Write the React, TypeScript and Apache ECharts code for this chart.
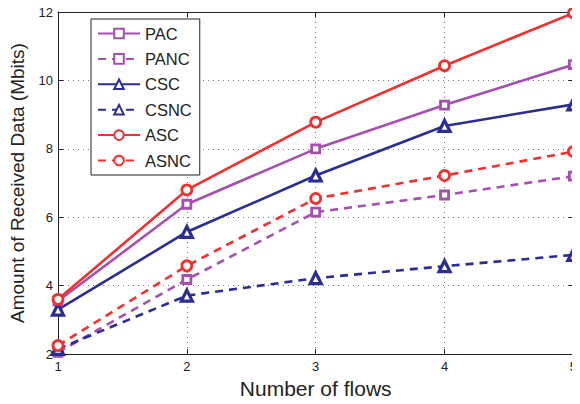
import React, { useEffect, useRef } from "react";
import * as echarts from "echarts";

const flows = [1, 2, 3, 4, 5];
const PAC = [3.55, 6.38, 8.0, 9.28, 10.46];
const PANC = [2.05, 4.18, 6.15, 6.65, 7.2];
const CSC = [3.3, 5.57, 7.22, 8.67, 9.3];
const CSNC = [2.15, 3.71, 4.22, 4.57, 4.9];
const ASC = [3.6, 6.8, 8.78, 10.43, 11.97];
const ASNC = [2.25, 4.58, 6.55, 7.22, 7.92];
const yTicks = [2, 12, 2]; // min, max, interval

const PURPLE = "#a54fb0";
const NAVY = "#2a2d96";
const RED = "#f2302f";
const FONT = "Liberation Sans, Arial, sans-serif";

export default function App() {
  const ref = useRef<HTMLDivElement>(null);
  useEffect(() => {
    const chart = echarts.init(ref.current!, null, { renderer: "svg" });
    const mk = (
      name: string,
      vals: number[],
      color: string,
      dashed: boolean,
      symbol: string,
      size: number,
      bw: number
    ) => ({
      name,
      type: "line",
      data: flows.map((x, i) => [x, vals[i]]),
      symbol,
      symbolSize: size,
      showAllSymbol: true,
      lineStyle: { color, width: 2.6, type: dashed ? [8, 6] : "solid" },
      itemStyle: { color: "#fff", borderColor: color, borderWidth: bw },
      z: 3,
    });
    const axisCommon = {
      axisLine: { show: true, lineStyle: { color: "#222", width: 1 } },
      axisTick: { show: true, inside: true, length: 5, lineStyle: { color: "#222" } },
    };
    chart.setOption({
      animation: false,
      backgroundColor: "#fff",
      textStyle: { fontFamily: FONT },
      grid: { left: 57, right: 5, top: 12, bottom: 47, containLabel: false },
      legend: {
        orient: "vertical",
        left: 91,
        top: 19,
        width: 107,
        padding: [6, 8, 6, 6],
        itemWidth: 42,
        itemHeight: 12,
        itemGap: 8.4,
        borderColor: "#222",
        borderWidth: 1,
        backgroundColor: "#fff",
        textStyle: { fontSize: 16.5, color: "#222", fontFamily: FONT },
        data: ["PAC", "PANC", "CSC", "CSNC", "ASC", "ASNC"],
      },
      xAxis: [
        {
          type: "value",
          min: 1,
          max: 5,
          interval: 1,
          name: "Number of flows",
          nameLocation: "middle",
          nameGap: 19,
          nameTextStyle: { fontSize: 21, color: "#222", fontFamily: FONT },
          axisLabel: { fontSize: 13, color: "#222", margin: 6, fontFamily: FONT },
          splitLine: { show: true, lineStyle: { color: "#777", type: [1, 4], width: 1 } },
          ...axisCommon,
        },
        {
          type: "value",
          position: "top",
          min: 1,
          max: 5,
          interval: 1,
          axisLabel: { show: false },
          splitLine: { show: false },
          ...axisCommon,
        },
      ],
      yAxis: [
        {
          type: "value",
          min: yTicks[0],
          max: yTicks[1],
          interval: yTicks[2],
          name: "Amount of Received Data (Mbits)",
          nameLocation: "middle",
          nameGap: 31,
          nameTextStyle: { fontSize: 19, color: "#222", fontFamily: FONT },
          axisLabel: { fontSize: 13, color: "#222", margin: 5, fontFamily: FONT },
          splitLine: { show: true, lineStyle: { color: "#777", type: [1, 4], width: 1 } },
          ...axisCommon,
        },
        {
          type: "value",
          position: "right",
          min: yTicks[0],
          max: yTicks[1],
          interval: yTicks[2],
          axisLabel: { show: false },
          splitLine: { show: false },
          ...axisCommon,
        },
      ],
      series: [
        mk("PAC", PAC, PURPLE, false, "rect", 8, 2.8),
        mk("PANC", PANC, PURPLE, true, "rect", 8, 2.8),
        mk("CSC", CSC, NAVY, false, "triangle", 11, 3.2),
        mk("CSNC", CSNC, NAVY, true, "triangle", 11, 3.2),
        mk("ASC", ASC, RED, false, "circle", 10, 2.8),
        mk("ASNC", ASNC, RED, true, "circle", 10, 2.8),
      ],
    });
    return () => chart.dispose();
  }, []);
  return <div ref={ref} style={{ width: 580, height: 404, margin: -8 }} />;
}
